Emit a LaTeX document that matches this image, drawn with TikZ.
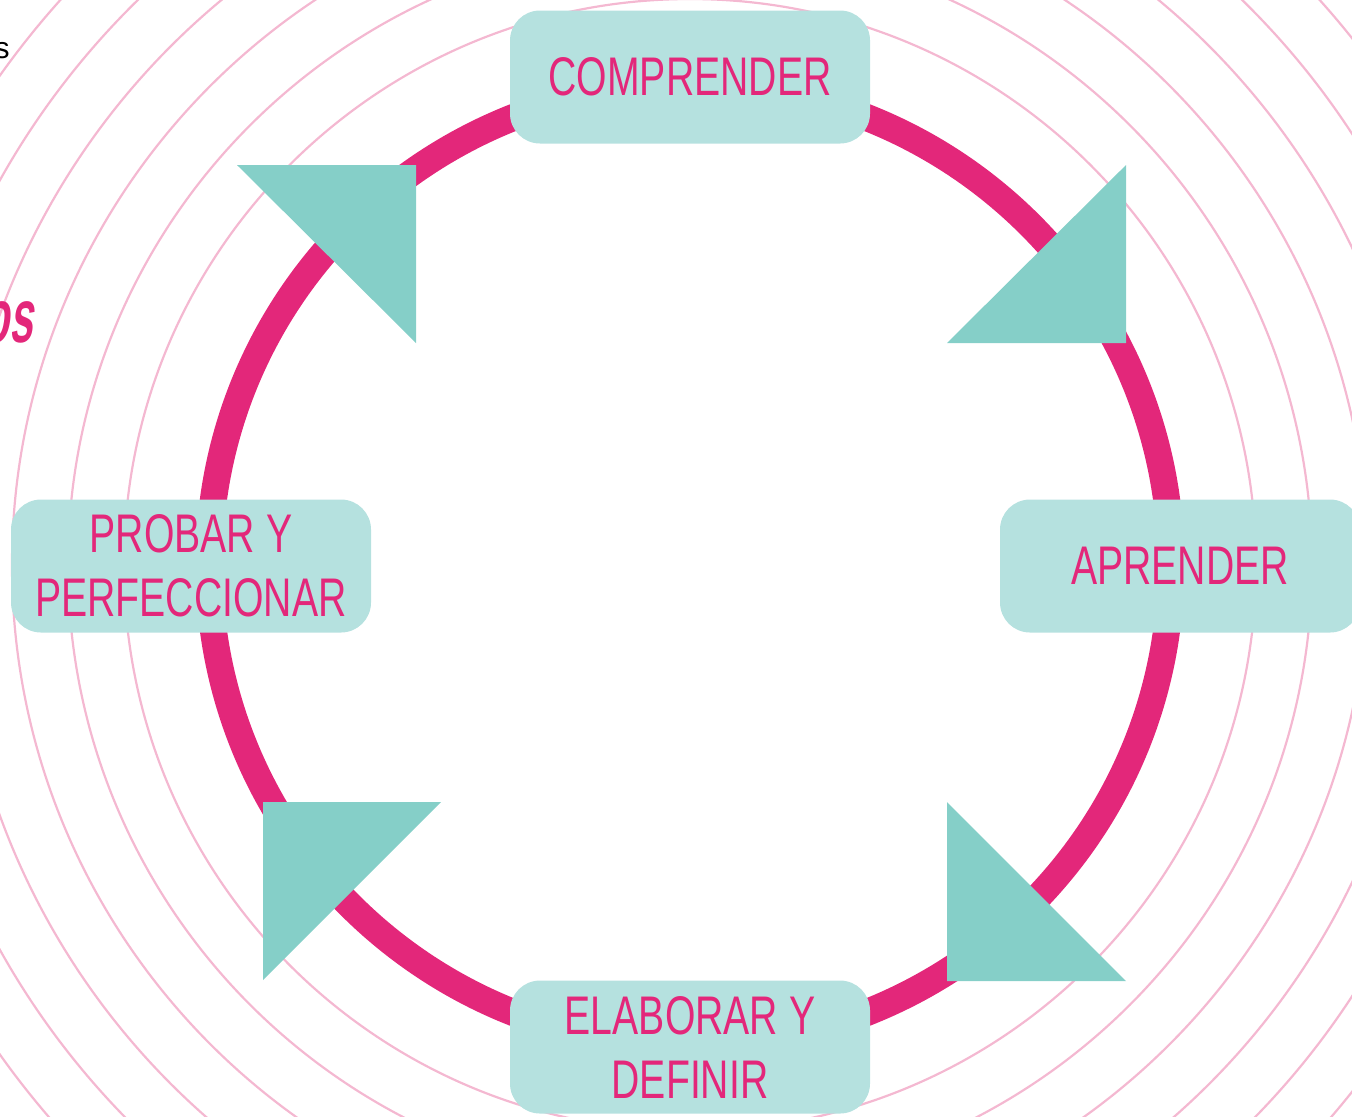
\documentclass[tikz,border=0pt]{standalone}
\usepackage{fontspec}
\setmainfont{Liberation Sans}[FakeStretch=0.72]
\newfontfamily\plainfont{Liberation Sans}
\newfontfamily\heavyfont{Liberation Sans}[FakeStretch=0.55,FakeSlant=0.15]
\usepackage{tikz}
\definecolor{ringpink}{HTML}{E3277A}
\definecolor{pale}{HTML}{F4B8D1}
\definecolor{boxteal}{HTML}{B5E1DF}
\definecolor{tipteal}{HTML}{85CFC8}

\begin{document}
\begin{tikzpicture}[x=0.5pt,y=-0.5pt,
      every node/.append style={font=\fontsize{27.2}{32}\selectfont,text=ringpink},
      stage/.style={fill=boxteal,rounded corners=15pt,minimum width=180pt,minimum height=66.5pt,align=center,inner sep=0pt},
      wave/.style={draw=pale,line width=1.1pt},
      tip/.style={fill=tipteal}]
    \useasboundingbox (0,0) rectangle (1352,1116);
    \coordinate (centre) at (690,565);
    \foreach \r in {566,622,...,960}
      \draw[wave] (centre) circle[radius=\r];
    \draw[ringpink,line width=13.5pt] (centre) circle[radius=481];
    \fill[tip] (237,165) -- (416,165) -- (416,343) -- cycle;
    \fill[tip] (1126,165) -- (1126,343) -- (947,343) -- cycle;
    \fill[tip] (947,802) -- (947,981) -- (1126,981) -- cycle;
    \fill[tip] (441,802) -- (263,802) -- (263,980) -- cycle;
    \node (comprender) [stage] at (690,77) {COMPRENDER};
    \node (aprender) [stage] at (1180,566) {APRENDER};
    \node (elaborar) [stage] at (690,1047) {ELABORAR Y\\DEFINIR};
    \node (probar) [stage] at (191,566) {PROBAR Y\\PERFECCIONAR};
    \node (wordend) [anchor=base east,inner sep=0pt,text=black,font=\plainfont\fontsize{15}{18}\selectfont] at (10,58) {s};
    \node (titleend) [anchor=base east,inner sep=0pt,font=\heavyfont\bfseries\fontsize{38}{44}\selectfont] at (33,342) {os};
\end{tikzpicture}
\end{document}
